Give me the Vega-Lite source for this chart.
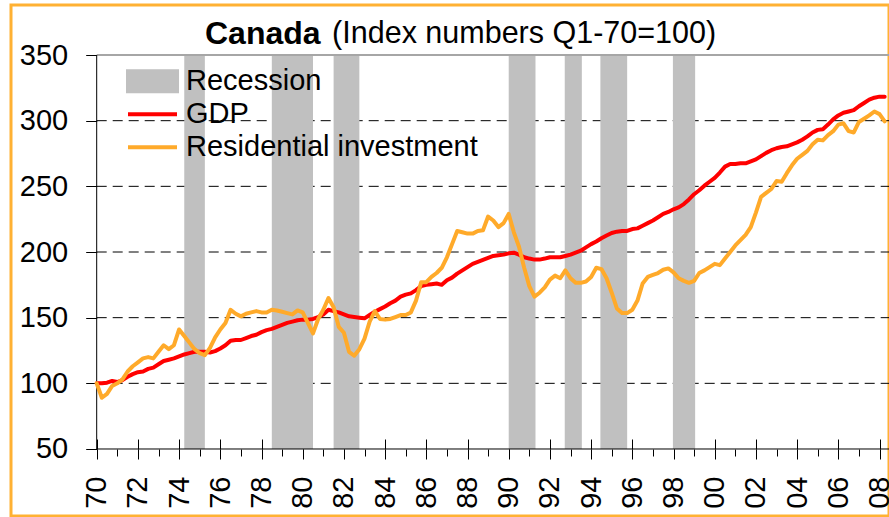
{
"$schema": "https://vega.github.io/schema/vega-lite/v6.json",
"width": 878, "height": 511,
"autosize": {"type": "none"},
"padding": {"left": 11, "top": 5, "right": 0, "bottom": 1},
"background": "white",
"config": {"view": {"stroke": "#FFB133", "strokeWidth": 3}, "font": "Liberation Sans"},
"title": {"text": "Canada", "subtitle": "\u200b\u00a0\u00a0\u00a0\u00a0\u00a0\u00a0\u00a0\u00a0\u00a0\u00a0\u00a0\u00a0\u00a0\u00a0\u00a0(Index numbers Q1-70=100)", "anchor": "start", "frame": "group", "dx": 194, "dy": 46, "offset": 0, "fontSize": 32, "fontWeight": "bold", "font": "Liberation Sans", "color": "black", "subtitleFontSize": 30.5, "subtitleFont": "Liberation Sans", "subtitleColor": "black", "subtitleFontWeight": "normal", "subtitlePadding": -32},
"datasets": {
"one": [{}],
"grid": [{"v":100},{"v":150},{"v":200},{"v":250},{"v":300}],
"rec": [{"start":1974.25,"end":1975.25,"s":"Recession"},{"start":1978.5,"end":1980.5,"s":"Recession"},{"start":1981.5,"end":1982.75,"s":"Recession"},{"start":1990.0,"end":1991.3,"s":"Recession"},{"start":1992.72,"end":1993.55,"s":"Recession"},{"start":1994.45,"end":1995.75,"s":"Recession"},{"start":1997.97,"end":1999.05,"s":"Recession"}],
"series": [
{"t":1970,"s":"GDP","v":100},{"t":1970.25,"s":"GDP","v":100},{"t":1970.5,"s":"GDP","v":100.5},{"t":1970.75,"s":"GDP","v":101.8},
{"t":1971,"s":"GDP","v":101},{"t":1971.25,"s":"GDP","v":102.5},{"t":1971.5,"s":"GDP","v":105},{"t":1971.75,"s":"GDP","v":107},
{"t":1972,"s":"GDP","v":108.5},{"t":1972.25,"s":"GDP","v":109},{"t":1972.5,"s":"GDP","v":111},{"t":1972.75,"s":"GDP","v":112},
{"t":1973,"s":"GDP","v":114.5},{"t":1973.25,"s":"GDP","v":117},{"t":1973.5,"s":"GDP","v":118},{"t":1973.75,"s":"GDP","v":119},
{"t":1974,"s":"GDP","v":120.5},{"t":1974.25,"s":"GDP","v":122},{"t":1974.5,"s":"GDP","v":123},{"t":1974.75,"s":"GDP","v":124},
{"t":1975,"s":"GDP","v":124},{"t":1975.25,"s":"GDP","v":124},{"t":1975.5,"s":"GDP","v":123.5},{"t":1975.75,"s":"GDP","v":124.5},
{"t":1976,"s":"GDP","v":126.5},{"t":1976.25,"s":"GDP","v":129},{"t":1976.5,"s":"GDP","v":132.5},{"t":1976.75,"s":"GDP","v":133},
{"t":1977,"s":"GDP","v":133},{"t":1977.25,"s":"GDP","v":134.5},{"t":1977.5,"s":"GDP","v":136},{"t":1977.75,"s":"GDP","v":137},
{"t":1978,"s":"GDP","v":139},{"t":1978.25,"s":"GDP","v":140.5},{"t":1978.5,"s":"GDP","v":141.5},{"t":1978.75,"s":"GDP","v":143},
{"t":1979,"s":"GDP","v":144.5},{"t":1979.25,"s":"GDP","v":146},{"t":1979.5,"s":"GDP","v":147},{"t":1979.75,"s":"GDP","v":148},
{"t":1980,"s":"GDP","v":148.5},{"t":1980.25,"s":"GDP","v":148.5},{"t":1980.5,"s":"GDP","v":149},{"t":1980.75,"s":"GDP","v":150.5},
{"t":1981,"s":"GDP","v":152.5},{"t":1981.25,"s":"GDP","v":156},{"t":1981.5,"s":"GDP","v":155},{"t":1981.75,"s":"GDP","v":154},
{"t":1982,"s":"GDP","v":152.5},{"t":1982.25,"s":"GDP","v":151},{"t":1982.5,"s":"GDP","v":150.5},{"t":1982.75,"s":"GDP","v":150},
{"t":1983,"s":"GDP","v":149.5},{"t":1983.25,"s":"GDP","v":152},{"t":1983.5,"s":"GDP","v":154.5},{"t":1983.75,"s":"GDP","v":156.5},
{"t":1984,"s":"GDP","v":158.5},{"t":1984.25,"s":"GDP","v":161},{"t":1984.5,"s":"GDP","v":163},{"t":1984.75,"s":"GDP","v":166},
{"t":1985,"s":"GDP","v":167.5},{"t":1985.25,"s":"GDP","v":168.5},{"t":1985.5,"s":"GDP","v":171},{"t":1985.75,"s":"GDP","v":174},
{"t":1986,"s":"GDP","v":175},{"t":1986.25,"s":"GDP","v":175.5},{"t":1986.5,"s":"GDP","v":176},{"t":1986.75,"s":"GDP","v":175},
{"t":1987,"s":"GDP","v":178.5},{"t":1987.25,"s":"GDP","v":180.5},{"t":1987.5,"s":"GDP","v":183.5},{"t":1987.75,"s":"GDP","v":186},
{"t":1988,"s":"GDP","v":188.5},{"t":1988.25,"s":"GDP","v":191},{"t":1988.5,"s":"GDP","v":192.5},{"t":1988.75,"s":"GDP","v":194},
{"t":1989,"s":"GDP","v":195.5},{"t":1989.25,"s":"GDP","v":197},{"t":1989.5,"s":"GDP","v":197.5},{"t":1989.75,"s":"GDP","v":198},
{"t":1990,"s":"GDP","v":199},{"t":1990.25,"s":"GDP","v":199.5},{"t":1990.5,"s":"GDP","v":198},{"t":1990.75,"s":"GDP","v":196},
{"t":1991,"s":"GDP","v":195},{"t":1991.25,"s":"GDP","v":194.2},{"t":1991.5,"s":"GDP","v":194.2},{"t":1991.75,"s":"GDP","v":195},
{"t":1992,"s":"GDP","v":196},{"t":1992.25,"s":"GDP","v":196},{"t":1992.5,"s":"GDP","v":196},{"t":1992.75,"s":"GDP","v":197},
{"t":1993,"s":"GDP","v":198},{"t":1993.25,"s":"GDP","v":199.5},{"t":1993.5,"s":"GDP","v":201},{"t":1993.75,"s":"GDP","v":203.5},
{"t":1994,"s":"GDP","v":206},{"t":1994.25,"s":"GDP","v":208},{"t":1994.5,"s":"GDP","v":210.5},{"t":1994.75,"s":"GDP","v":212.5},
{"t":1995,"s":"GDP","v":214.5},{"t":1995.25,"s":"GDP","v":215.5},{"t":1995.5,"s":"GDP","v":216},{"t":1995.75,"s":"GDP","v":216},
{"t":1996,"s":"GDP","v":217.5},{"t":1996.25,"s":"GDP","v":218},{"t":1996.5,"s":"GDP","v":220},{"t":1996.75,"s":"GDP","v":222},
{"t":1997,"s":"GDP","v":224},{"t":1997.25,"s":"GDP","v":226.5},{"t":1997.5,"s":"GDP","v":229},{"t":1997.75,"s":"GDP","v":230.5},
{"t":1998,"s":"GDP","v":232.5},{"t":1998.25,"s":"GDP","v":234},{"t":1998.5,"s":"GDP","v":236.5},{"t":1998.75,"s":"GDP","v":240},
{"t":1999,"s":"GDP","v":244},{"t":1999.25,"s":"GDP","v":247},{"t":1999.5,"s":"GDP","v":250.5},{"t":1999.75,"s":"GDP","v":253.5},
{"t":2000,"s":"GDP","v":256.5},{"t":2000.25,"s":"GDP","v":260.5},{"t":2000.5,"s":"GDP","v":265},{"t":2000.75,"s":"GDP","v":267},
{"t":2001,"s":"GDP","v":267},{"t":2001.25,"s":"GDP","v":267.5},{"t":2001.5,"s":"GDP","v":267.5},{"t":2001.75,"s":"GDP","v":269},
{"t":2002,"s":"GDP","v":270.5},{"t":2002.25,"s":"GDP","v":273},{"t":2002.5,"s":"GDP","v":275.5},{"t":2002.75,"s":"GDP","v":277.5},
{"t":2003,"s":"GDP","v":279},{"t":2003.25,"s":"GDP","v":280},{"t":2003.5,"s":"GDP","v":280.5},{"t":2003.75,"s":"GDP","v":282},
{"t":2004,"s":"GDP","v":283.5},{"t":2004.25,"s":"GDP","v":285.5},{"t":2004.5,"s":"GDP","v":288},{"t":2004.75,"s":"GDP","v":291},
{"t":2005,"s":"GDP","v":293},{"t":2005.25,"s":"GDP","v":293.5},{"t":2005.5,"s":"GDP","v":297},{"t":2005.75,"s":"GDP","v":301},
{"t":2006,"s":"GDP","v":304},{"t":2006.25,"s":"GDP","v":306},{"t":2006.5,"s":"GDP","v":307},{"t":2006.75,"s":"GDP","v":308},
{"t":2007,"s":"GDP","v":311},{"t":2007.25,"s":"GDP","v":313.5},{"t":2007.5,"s":"GDP","v":316},{"t":2007.75,"s":"GDP","v":317.5},
{"t":2008,"s":"GDP","v":318.3},{"t":2008.25,"s":"GDP","v":318.3},
{"t":1970,"s":"Residential investment","v":100},{"t":1970.25,"s":"Residential investment","v":89},{"t":1970.5,"s":"Residential investment","v":92},{"t":1970.75,"s":"Residential investment","v":98},
{"t":1971,"s":"Residential investment","v":100},{"t":1971.25,"s":"Residential investment","v":103},{"t":1971.5,"s":"Residential investment","v":109},{"t":1971.75,"s":"Residential investment","v":113},
{"t":1972,"s":"Residential investment","v":116},{"t":1972.25,"s":"Residential investment","v":119},{"t":1972.5,"s":"Residential investment","v":120},{"t":1972.75,"s":"Residential investment","v":119},
{"t":1973,"s":"Residential investment","v":124},{"t":1973.25,"s":"Residential investment","v":129},{"t":1973.5,"s":"Residential investment","v":126},{"t":1973.75,"s":"Residential investment","v":129},
{"t":1974,"s":"Residential investment","v":141},{"t":1974.25,"s":"Residential investment","v":136},{"t":1974.5,"s":"Residential investment","v":131},{"t":1974.75,"s":"Residential investment","v":126},
{"t":1975,"s":"Residential investment","v":123},{"t":1975.25,"s":"Residential investment","v":121.5},{"t":1975.5,"s":"Residential investment","v":127},{"t":1975.75,"s":"Residential investment","v":135},
{"t":1976,"s":"Residential investment","v":141},{"t":1976.25,"s":"Residential investment","v":146},{"t":1976.5,"s":"Residential investment","v":156},{"t":1976.75,"s":"Residential investment","v":153},
{"t":1977,"s":"Residential investment","v":151},{"t":1977.25,"s":"Residential investment","v":153},{"t":1977.5,"s":"Residential investment","v":154},{"t":1977.75,"s":"Residential investment","v":155},
{"t":1978,"s":"Residential investment","v":154},{"t":1978.25,"s":"Residential investment","v":154},{"t":1978.5,"s":"Residential investment","v":156},{"t":1978.75,"s":"Residential investment","v":155.5},
{"t":1979,"s":"Residential investment","v":154.5},{"t":1979.25,"s":"Residential investment","v":153.5},{"t":1979.5,"s":"Residential investment","v":152.5},{"t":1979.75,"s":"Residential investment","v":155.5},
{"t":1980,"s":"Residential investment","v":154},{"t":1980.25,"s":"Residential investment","v":146},{"t":1980.5,"s":"Residential investment","v":138},{"t":1980.75,"s":"Residential investment","v":149},
{"t":1981,"s":"Residential investment","v":156},{"t":1981.25,"s":"Residential investment","v":165},{"t":1981.5,"s":"Residential investment","v":158},{"t":1981.75,"s":"Residential investment","v":143},
{"t":1982,"s":"Residential investment","v":138.5},{"t":1982.25,"s":"Residential investment","v":124},{"t":1982.5,"s":"Residential investment","v":121},{"t":1982.75,"s":"Residential investment","v":126},
{"t":1983,"s":"Residential investment","v":134},{"t":1983.25,"s":"Residential investment","v":147},{"t":1983.5,"s":"Residential investment","v":155},{"t":1983.75,"s":"Residential investment","v":149},
{"t":1984,"s":"Residential investment","v":148.5},{"t":1984.25,"s":"Residential investment","v":149},{"t":1984.5,"s":"Residential investment","v":150.5},{"t":1984.75,"s":"Residential investment","v":152},
{"t":1985,"s":"Residential investment","v":152},{"t":1985.25,"s":"Residential investment","v":154},{"t":1985.5,"s":"Residential investment","v":163},{"t":1985.75,"s":"Residential investment","v":177},
{"t":1986,"s":"Residential investment","v":177},{"t":1986.25,"s":"Residential investment","v":181},{"t":1986.5,"s":"Residential investment","v":184},{"t":1986.75,"s":"Residential investment","v":188},
{"t":1987,"s":"Residential investment","v":196},{"t":1987.25,"s":"Residential investment","v":206},{"t":1987.5,"s":"Residential investment","v":216},{"t":1987.75,"s":"Residential investment","v":215},
{"t":1988,"s":"Residential investment","v":214},{"t":1988.25,"s":"Residential investment","v":214},{"t":1988.5,"s":"Residential investment","v":216},{"t":1988.75,"s":"Residential investment","v":216.5},
{"t":1989,"s":"Residential investment","v":227},{"t":1989.25,"s":"Residential investment","v":224},{"t":1989.5,"s":"Residential investment","v":219},{"t":1989.75,"s":"Residential investment","v":222},
{"t":1990,"s":"Residential investment","v":229},{"t":1990.25,"s":"Residential investment","v":215},{"t":1990.5,"s":"Residential investment","v":204},{"t":1990.75,"s":"Residential investment","v":188},
{"t":1991,"s":"Residential investment","v":174},{"t":1991.25,"s":"Residential investment","v":166},{"t":1991.5,"s":"Residential investment","v":169},{"t":1991.75,"s":"Residential investment","v":173},
{"t":1992,"s":"Residential investment","v":179},{"t":1992.25,"s":"Residential investment","v":182},{"t":1992.5,"s":"Residential investment","v":180},{"t":1992.75,"s":"Residential investment","v":186},
{"t":1993,"s":"Residential investment","v":180},{"t":1993.25,"s":"Residential investment","v":176.5},{"t":1993.5,"s":"Residential investment","v":176.5},{"t":1993.75,"s":"Residential investment","v":177.5},
{"t":1994,"s":"Residential investment","v":181},{"t":1994.25,"s":"Residential investment","v":188},{"t":1994.5,"s":"Residential investment","v":187},{"t":1994.75,"s":"Residential investment","v":180},
{"t":1995,"s":"Residential investment","v":169},{"t":1995.25,"s":"Residential investment","v":157},{"t":1995.5,"s":"Residential investment","v":153.5},{"t":1995.75,"s":"Residential investment","v":153.5},
{"t":1996,"s":"Residential investment","v":156},{"t":1996.25,"s":"Residential investment","v":163},{"t":1996.5,"s":"Residential investment","v":176},{"t":1996.75,"s":"Residential investment","v":181},
{"t":1997,"s":"Residential investment","v":182.5},{"t":1997.25,"s":"Residential investment","v":184},{"t":1997.5,"s":"Residential investment","v":186.5},{"t":1997.75,"s":"Residential investment","v":187.5},
{"t":1998,"s":"Residential investment","v":184.5},{"t":1998.25,"s":"Residential investment","v":180},{"t":1998.5,"s":"Residential investment","v":178},{"t":1998.75,"s":"Residential investment","v":176.5},
{"t":1999,"s":"Residential investment","v":178},{"t":1999.25,"s":"Residential investment","v":184},{"t":1999.5,"s":"Residential investment","v":186},{"t":1999.75,"s":"Residential investment","v":188.5},
{"t":2000,"s":"Residential investment","v":191},{"t":2000.25,"s":"Residential investment","v":190},{"t":2000.5,"s":"Residential investment","v":195},{"t":2000.75,"s":"Residential investment","v":200},
{"t":2001,"s":"Residential investment","v":205},{"t":2001.25,"s":"Residential investment","v":209},{"t":2001.5,"s":"Residential investment","v":213},{"t":2001.75,"s":"Residential investment","v":219},
{"t":2002,"s":"Residential investment","v":230},{"t":2002.25,"s":"Residential investment","v":242},{"t":2002.5,"s":"Residential investment","v":245},{"t":2002.75,"s":"Residential investment","v":248},
{"t":2003,"s":"Residential investment","v":254},{"t":2003.25,"s":"Residential investment","v":253.5},{"t":2003.5,"s":"Residential investment","v":260},{"t":2003.75,"s":"Residential investment","v":266},
{"t":2004,"s":"Residential investment","v":271},{"t":2004.25,"s":"Residential investment","v":274},{"t":2004.5,"s":"Residential investment","v":277},{"t":2004.75,"s":"Residential investment","v":282},
{"t":2005,"s":"Residential investment","v":285.5},{"t":2005.25,"s":"Residential investment","v":285},{"t":2005.5,"s":"Residential investment","v":289},{"t":2005.75,"s":"Residential investment","v":292},
{"t":2006,"s":"Residential investment","v":297},{"t":2006.25,"s":"Residential investment","v":298},{"t":2006.5,"s":"Residential investment","v":292},{"t":2006.75,"s":"Residential investment","v":291},
{"t":2007,"s":"Residential investment","v":299},{"t":2007.25,"s":"Residential investment","v":301.5},{"t":2007.5,"s":"Residential investment","v":304},{"t":2007.75,"s":"Residential investment","v":307},
{"t":2008,"s":"Residential investment","v":305},{"t":2008.25,"s":"Residential investment","v":299.5}
]
},
"layer": [
{"data": {"name": "grid"}, "mark": {"type": "rule", "color": "#000000", "strokeWidth": 1, "strokeDash": [10, 6]},
 "encoding": {
  "y": {"field": "v", "type": "quantitative", "axis": null, "scale": {"domain": [-1.02, 388.08], "nice": false, "zero": false}},
  "x": {"datum": 1970, "type": "quantitative", "axis": null, "scale": {"domain": [1965.84, 2008.46], "nice": false, "zero": false}},
  "x2": {"datum": 2008.46}}},
{"data": {"name": "rec"}, "mark": {"type": "rect", "opacity": 1},
 "encoding": {
  "x": {"field": "start", "type": "quantitative", "scale": {"domain": [1965.84, 2008.46], "nice": false, "zero": false},
        "axis": {"orient": "bottom", "offset": -67, "values": [1971,1973,1975,1977,1979,1981,1983,1985,1987,1989,1991,1993,1995,1997,1999,2001,2003,2005,2007], "tickSize": 7, "tickColor": "black", "tickWidth": 1, "labels": false, "domain": false, "grid": false, "title": null}},
  "x2": {"field": "end"},
  "y": {"datum": 50, "type": "quantitative", "axis": null, "scale": {"domain": [-1.02, 388.08], "nice": false, "zero": false}},
  "y2": {"datum": 350},
  "color": {"field": "s", "type": "nominal", "legend": null, "scale": {"domain": ["Recession", "GDP", "Residential investment"], "range": ["#C0C0C0", "#FF0000", "#FFAA2A"]}}}},
{"data": {"name": "one"}, "mark": {"type": "rule", "color": "#A6A6A6", "strokeWidth": 2},
 "encoding": {
  "y": {"datum": 350, "type": "quantitative", "axis": null},
  "x": {"datum": 1970, "type": "quantitative", "axis": null},
  "x2": {"datum": 2008.46}}},
{"data": {"name": "one"}, "mark": {"type": "rule", "color": "black", "strokeWidth": 1},
 "encoding": {
  "y": {"datum": 50, "type": "quantitative", "axis": null},
  "x": {"datum": 1970, "type": "quantitative", "axis": null},
  "x2": {"datum": 2008.46}}},
{"data": {"name": "one"}, "mark": {"type": "rule", "color": "black", "strokeWidth": 1},
 "encoding": {
  "x": {"datum": 1970, "type": "quantitative",
        "axis": {"orient": "bottom", "offset": -67, "values": [1970,1972,1974,1976,1978,1980,1982,1984,1986,1988,1990,1992,1994,1996,1998,2000,2002,2004,2006,2008], "tickSize": -10, "tickColor": "black", "tickWidth": 1, "labels": false, "domain": false, "grid": false, "title": null}},
  "y": {"datum": 50, "type": "quantitative", "axis": null},
  "y2": {"datum": 350}}},
{"data": {"name": "series"}, "mark": {"type": "line", "strokeWidth": 4, "strokeJoin": "round", "strokeCap": "round"},
 "encoding": {
  "x": {"field": "t", "type": "quantitative", "scale": {"domain": [1965.84, 2008.46], "nice": false, "zero": false},
        "axis": {"orient": "bottom", "offset": -67, "values": [1970,1972,1974,1976,1978,1980,1982,1984,1986,1988,1990,1992,1994,1996,1998,2000,2002,2004,2006,2008], "labelExpr": "format(datum.value % 100, '02d')", "labelAngle": -90, "labelFontSize": 29, "labelFont": "Liberation Sans", "labelColor": "black", "labelPadding": 17, "tickSize": 10, "tickColor": "black", "tickWidth": 1, "domain": false, "grid": false, "title": null, "labelOverlap": false, "labelBound": false, "labelFlush": false}},
  "y": {"field": "v", "type": "quantitative", "scale": {"domain": [-1.02, 388.08], "nice": false, "zero": false},
        "axis": {"orient": "left", "offset": -85.7, "values": [50,100,150,200,250,300,350], "labelFontSize": 29, "labelFont": "Liberation Sans", "labelColor": "black", "labelPadding": 18, "tickSize": 11, "tickColor": "black", "tickWidth": 1, "domain": false, "grid": false, "title": null, "labelOverlap": false, "labelBound": false, "labelFlush": false}},
  "color": {"field": "s", "type": "nominal", "scale": {"domain": ["Recession", "GDP", "Residential investment"], "range": ["#C0C0C0", "#FF0000", "#FFAA2A"]},
        "legend": {"orient": "none", "legendX": 115, "legendY": 60, "title": null, "padding": 0, "symbolSize": 2401, "symbolStrokeWidth": 4, "labelFontSize": 29, "labelFont": "Liberation Sans", "labelColor": "black", "labelOffset": 7, "labelLimit": 600, "clipHeight": 32.5, "rowPadding": 0,
          "encode": {"symbols": {"update": {
             "shape": {"signal": "datum.value === 'Recession' ? 'M-1,-0.41H1V0.41H-1Z' : 'stroke'"},
             "fill": {"signal": "datum.value === 'Recession' ? '#C0C0C0' : 'transparent'"},
             "stroke": {"signal": "datum.value === 'GDP' ? '#FF0000' : (datum.value === 'Recession' ? 'transparent' : '#FFAA2A')"},
             "strokeWidth": {"value": 4},
             "size": {"value": 2401},
             "opacity": {"value": 1}}}}}}}}
],
"resolve": {"axis": {"x": "independent", "y": "independent"}, "legend": {"color": "independent"}}
}
